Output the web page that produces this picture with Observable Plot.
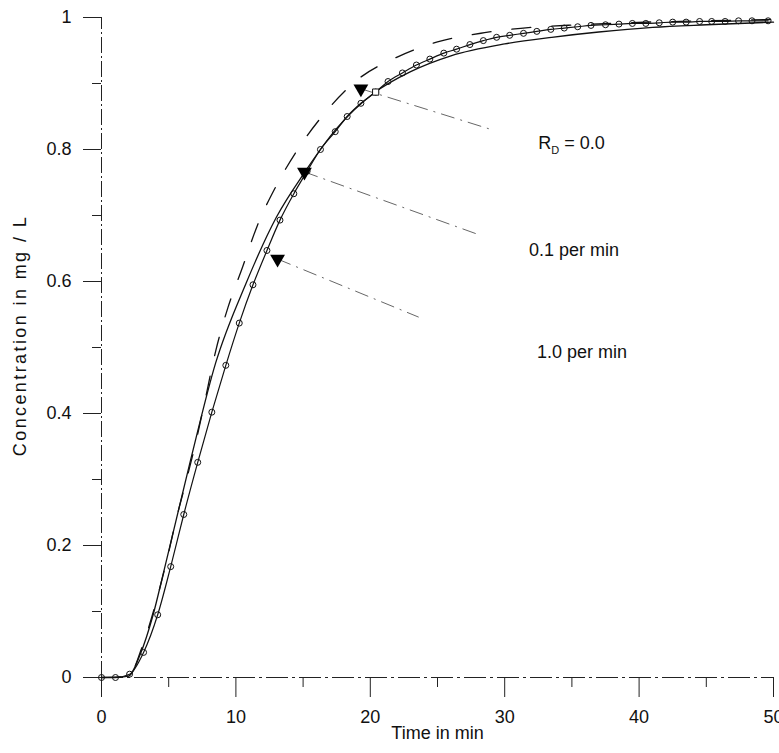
<!DOCTYPE html>
<html><head><meta charset="utf-8">
<script src="https://cdn.jsdelivr.net/npm/d3@7"></script>
<script src="https://cdn.jsdelivr.net/npm/@observablehq/plot@0.6"></script>
<style>body{margin:0;background:#fff} svg{font-family:"Liberation Sans",Arial,sans-serif}</style>
</head><body><div id="chart"></div><script>
// Curve with open circles
const circleT = [0,1.04,2.09,3.13,4.18,5.15,6.12,7.16,8.21,9.25,10.25,11.27,12.31,13.28,14.31,15.3,16.29,17.39,18.28,19.3,20.4,21.32,22.39,23.43,24.43,25.47,26.42,27.41,28.41,29.4,30.37,31.4,32.39,33.43,34.43,35.43,36.42,37.5,38.5,39.5,40.5,41.5,42.5,43.5,44.5,45.4,46.4,47.4,48.4,49.6];
const circleC = [0,0,0.005,0.038,0.095,0.168,0.247,0.326,0.402,0.473,0.537,0.595,0.647,0.693,0.733,0.767,0.800,0.827,0.850,0.870,0.887,0.903,0.916,0.928,0.937,0.946,0.952,0.959,0.965,0.970,0.973,0.976,0.979,0.982,0.984,0.986,0.988,0.989,0.990,0.991,0.991,0.992,0.993,0.993,0.994,0.994,0.994,0.995,0.995,0.995];
// Plain solid curve
const solidT = [0,1,2,2.9,3.8,4.65,6.6,8.5,10.75,13,15.1,17.5,20.3,23,26,30,33.5,37,41,45,50];
const solidC = [0,0,0.002,0.036,0.092,0.162,0.327,0.477,0.597,0.697,0.765,0.832,0.886,0.918,0.942,0.960,0.970,0.978,0.985,0.989,0.993];
// Dashed curve
const dashT = [0,2,3,4,5,5.5,6.2,7,7.6,8.5,9.4,10.5,11.6,13,14.6,16.6,19,22,25,28.5,32,35.5,39,45,50];
const dashC = [0,0.002,0.045,0.11,0.19,0.235,0.29,0.355,0.41,0.495,0.56,0.622,0.685,0.745,0.80,0.855,0.905,0.94,0.963,0.977,0.985,0.989,0.992,0.995,0.997];
// Annotation arrows and labels
const arrowT = [19.3, 15.1, 13.1];
const arrowC = [0.892, 0.766, 0.634];
const leadEndT = [29.2, 28.2, 23.6];
const leadEndC = [0.829, 0.670, 0.546];
const labelText = ["R_D = 0.0", "0.1 per min", "1.0 per min"];
const labelT = [32.5, 31.8, 32.4];
const labelC = [0.810, 0.647, 0.493];
const squareT = [20.4];
const squareC = [0.887];
// Ticks
const xMajor = [0, 10, 20, 30, 40, 50];
const xMinor = [5, 15, 25, 35, 45];
const yMajor = [0, 0.2, 0.4, 0.6, 0.8, 1];
const yMajorLabels = ["0", "0.2", "0.4", "0.6", "0.8", "1"];
const yMinor = [0.1, 0.3, 0.5, 0.7, 0.9];
const xTitle = "Time in min";
const yTitle = "Concentration in mg / L";

const circ = circleT.map((t, i) => ({t, c: circleC[i]}));
const sol = solidT.map((t, i) => ({t, c: solidC[i]}));
const dsh = dashT.map((t, i) => ({t, c: dashC[i]}));
const ann = arrowT.map((t, i) => ({t, c: arrowC[i], t2: leadEndT[i], c2: leadEndC[i]}));
const labs = labelText.map((s, i) => ({s, t: labelT[i], c: labelC[i]}));
const sq = squareT.map((t, i) => ({t, c: squareC[i]}));

const chart = Plot.plot({
  width: 779, height: 753,
  marginLeft: 101, marginRight: 6, marginTop: 17, marginBottom: 76,
  style: {fontFamily: "Liberation Sans, Arial, sans-serif", fontSize: "18px", background: "#fff", color: "#111"},
  x: {domain: [0, 50]},
  y: {domain: [0, 1]},
  marks: [
    Plot.axisX({ticks: xMajor, tickSize: 20, tickPadding: 13, tickFormat: d => String(d), label: null, stroke: "#222", fontSize: 18}),
    Plot.axisX({ticks: xMinor, tickSize: 10, tickFormat: () => "", label: null, stroke: "#222"}),
    Plot.axisY({ticks: yMajor, tickSize: 18, tickPadding: 12, tickFormat: d => yMajorLabels[yMajor.indexOf(d)], label: null, stroke: "#222", fontSize: 18}),
    Plot.axisY({ticks: yMinor, tickSize: 9, tickFormat: () => "", label: null, stroke: "#222"}),
    Plot.ruleX([0], {y1: 0, y2: 1, stroke: "#222", strokeWidth: 1, strokeDasharray: "16,3,2,3"}),
    Plot.ruleY([0], {x1: 0, x2: 50, stroke: "#222", strokeWidth: 1, strokeDasharray: "22,4,3,4"}),
    Plot.text([xTitle], {frameAnchor: "bottom", dy: 61, fontSize: 18, fill: "#111"}),
    Plot.text([yTitle], {frameAnchor: "left", textAnchor: "middle", dx: -81, dy: -12, rotate: -90, fontSize: 18, fill: "#111"}),
    Plot.link(ann, {x1: "t", y1: "c", x2: "t2", y2: "c2", stroke: "#555", strokeWidth: 0.9, strokeDasharray: "14,6,2,6"}),
    Plot.line(dsh, {x: "t", y: "c", curve: "monotone-x", stroke: "#111", strokeWidth: 1.3, strokeDasharray: "19,21"}),
    Plot.line(sol, {x: "t", y: "c", curve: "monotone-x", stroke: "#111", strokeWidth: 1.3}),
    Plot.line(circ, {x: "t", y: "c", curve: "monotone-x", stroke: "#111", strokeWidth: 1.2}),
    Plot.dot(circ, {x: "t", y: "c", r: 3, stroke: "#111", strokeWidth: 1, fill: "none"}),
    Plot.dot(sq, {x: "t", y: "c", symbol: "square", r: 3.5, stroke: "#111", strokeWidth: 1, fill: "#fff"}),
    Plot.dot(ann, {x: "t", y: "c", symbol: "triangle", rotate: 180, r: 5.5, fill: "#000", stroke: "none"}),
    Plot.text(labs, {x: "t", y: "c", text: "s", textAnchor: "start", fontSize: 18, fill: "#111"})
  ]
});
document.getElementById("chart").appendChild(chart);
const ns = "http://www.w3.org/2000/svg";
chart.querySelectorAll("text").forEach(el => {
  // Subscript for R_D
  if (el.textContent === "R_D = 0.0") {
    el.textContent = "";
    const a = document.createElementNS(ns, "tspan"); a.textContent = "R";
    const b = document.createElementNS(ns, "tspan"); b.textContent = "D"; b.setAttribute("dy", "5"); b.setAttribute("font-size", "11");
    const c = document.createElementNS(ns, "tspan"); c.textContent = " = 0.0"; c.setAttribute("dy", "-5");
    el.append(a, b, c);
  }
  if (el.textContent === yTitle) {
    el.setAttribute("letter-spacing", "2.4");
  }
});
</script></body></html>
